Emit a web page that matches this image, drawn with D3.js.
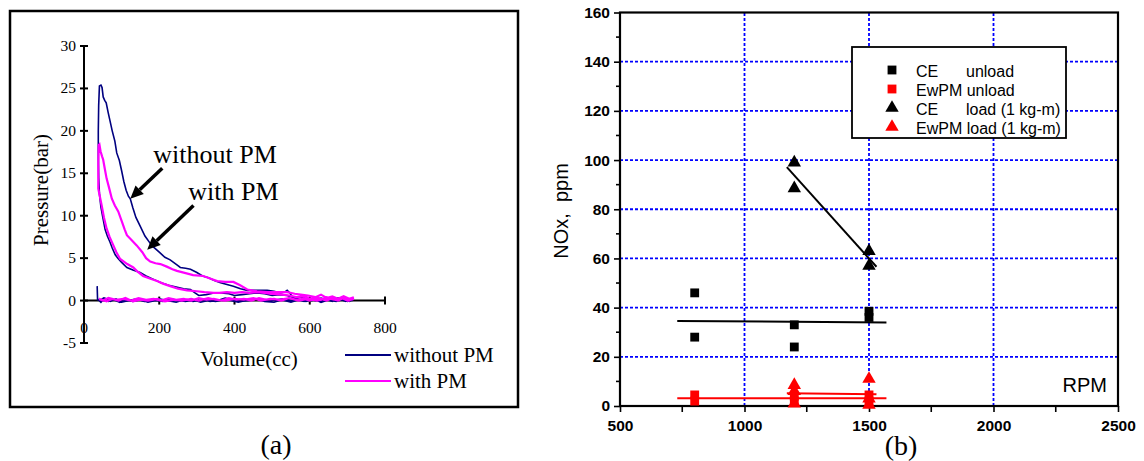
<!DOCTYPE html>
<html>
<head>
<meta charset="utf-8">
<script src="https://cdn.jsdelivr.net/npm/d3@7/dist/d3.min.js"></script>
<style>
  body { margin: 0; background: #fff; }
</style>
</head>
<body>
<script>
// ---------- data: (a) P-V diagram, [volume cc, pressure bar] in drawing order ----------
var withoutPM = [
  // compression (lower branch)
  [715,0.1],[700,-0.1],[685,0.2],[670,0.0],[655,0.2],[640,0.1],[620,0.3],[600,0.2],[580,0.4],[560,0.3],
  [540,0.6],[520,0.7],[500,0.6],[480,0.8],[460,0.9],[440,0.8],[420,0.7],[400,0.6],[385,0.8],[365,0.9],
  [345,0.9],[325,0.7],[305,0.6],[295,0.9],[283,1.3],[265,1.4],[245,1.6],[225,1.8],[205,2.1],[185,2.5],
  [165,2.9],[149,3.3],[130,3.6],[114,3.9],[100,4.5],[90,5.0],[83,5.4],[75,6.2],[69,6.9],[62,7.6],
  [56,8.4],[50,9.8],[45,11.0],[41,12.6],[39,14.5],[38,17.0],[38,20.0],[39,23.0],
  // peak and expansion (upper branch)
  [41,25.3],[45,25.4],[48,25.1],[51,24.0],[55,23.6],[59,23.3],[64,22.2],[69,21.2],[75,20.0],[82,18.8],
  [87,17.4],[94,16.5],[100,15.3],[106,14.0],[112,13.0],[118,12.3],[123,12.0],[130,10.9],[138,9.8],[149,8.8],
  [162,7.6],[175,6.8],[185,6.3],[200,5.7],[215,5.1],[229,4.8],[247,4.2],[256,3.9],[270,3.8],[283,3.7],
  [300,3.3],[315,2.9],[331,2.7],[345,2.4],[363,2.1],[380,1.9],[397,1.7],[416,1.4],[434,1.2],[455,1.2],
  [487,1.2],[505,1.1],[523,0.9],[533,1.0],[540,1.2],[547,0.9],[553,0.5],[560,0.2],[575,0.1],[590,0.3],
  [605,0.0],[620,0.2],[635,-0.1],[650,0.2],[665,0.0],[680,0.2],[695,-0.1],[705,0.2],[715,0.0],
  // exhaust (near zero)
  [705,0.2],[690,0.0],[675,0.3],[660,-0.1],[645,0.1],[630,0.3],[615,0.0],[600,0.2],[585,-0.1],[570,0.1],
  [550,0.0],[530,0.2],[510,0.1],[490,-0.1],[470,0.1],[450,0.2],[430,0.0],[410,-0.2],[390,0.0],[370,0.1],
  [350,-0.1],[330,0.0],[310,-0.2],[290,0.1],[270,-0.1],[250,0.0],[230,0.2],[210,-0.1],[190,0.0],[170,-0.2],
  [150,0.1],[130,-0.1],[110,0.1],[95,-0.2],[80,0.1],[65,-0.1],[52,0.3],[42,0.0],[36,0.1],[35,1.7],[36,0.2],
  // intake (near zero)
  [45,-0.2],[55,0.3],[70,-0.1],[85,0.2],[100,-0.2],[120,0.0],[140,0.2],[160,-0.1],[180,0.1],[200,0.2],
  [220,0.0],[245,-0.2],[265,0.1],[290,-0.1],[315,0.2],[335,-0.1],[355,0.0],[375,0.3],[395,0.1],[415,-0.1],
  [440,0.0],[460,0.2],[480,-0.1],[505,-0.2],[525,0.1],[550,-0.2],[570,0.1],[590,-0.1],[610,0.2],[630,-0.2],
  [650,0.1],[670,-0.1],[690,0.2],[705,-0.1],[715,0.1]
];

var withPM = [
  // compression (lower branch)
  [717,0.3],[705,0.0],[690,0.4],[675,0.1],[660,0.3],[645,0.0],[630,0.2],[615,0.4],[600,0.2],[585,0.5],
  [565,0.4],[545,0.6],[525,0.7],[500,0.8],[480,0.9],[460,1.0],[440,0.9],[420,1.0],[400,0.9],[380,1.0],
  [360,0.9],[345,0.9],[320,1.0],[300,1.1],[274,1.2],[250,1.4],[229,1.7],[210,2.0],[194,2.3],[175,2.6],
  [157,2.9],[140,3.5],[131,3.9],[115,4.3],[96,4.9],[86,5.7],[78,6.5],[68,7.5],[60,8.5],[53,9.8],
  [47,11.2],[42,12.3],[38,13.2],[38,16.0],
  // peak and expansion (upper branch)
  [39,18.3],[41,18.4],[44,17.6],[48,17.0],[51,16.6],[55,15.6],[60,14.4],[66,13.4],[74,12.0],[82,11.2],
  [91,10.5],[100,9.4],[108,8.4],[114,7.7],[125,7.2],[140,6.5],[155,5.7],[165,5.0],[176,4.6],[190,4.4],
  [203,4.3],[220,4.0],[235,3.7],[247,3.5],[265,3.3],[290,3.0],[317,2.9],[335,2.6],[354,2.3],[375,2.2],
  [397,2.2],[415,1.8],[434,1.3],[460,1.1],[487,1.0],[515,1.0],[540,1.0],[560,0.8],[576,0.7],[595,0.6],
  [615,0.4],[630,0.7],[645,0.3],[660,0.5],[675,0.2],[690,0.5],[705,0.2],[717,0.4],
  // exhaust (near zero)
  [705,0.1],[690,0.3],[675,0.0],[660,0.2],[645,0.4],[630,0.1],[615,0.3],[600,0.0],[585,0.2],[565,0.1],
  [545,0.3],[525,0.0],[505,0.2],[485,0.1],[465,0.3],[445,0.0],[425,0.2],[405,0.1],[385,0.3],[365,0.0],
  [345,0.2],[325,0.1],[305,0.3],[285,0.0],[265,0.2],[245,0.1],[225,0.3],[205,0.0],[185,0.2],[165,0.1],
  [145,0.3],[125,0.0],[105,0.2],[85,0.1],[65,0.3],[50,0.0],[40,0.2],
  // intake (near zero)
  [48,0.1],[60,-0.1],[75,0.2],[92,0.0],[110,0.3],[130,-0.1],[150,0.1],[170,0.0],[195,0.2],[215,-0.1],
  [240,0.1],[260,0.0],[285,0.2],[305,0.0],[330,0.3],[350,0.1],[375,0.0],[400,0.2],[425,0.1],[450,0.3],
  [470,0.0],[495,0.2],[520,0.1],[545,0.3],[570,0.0],[595,0.2],[620,0.0],[645,0.3],[665,0.1],[685,0.3],
  [700,0.0],[717,0.2]
];

var pvTicksX = [0, 200, 400, 600, 800];
var pvTicksY = [-5, 0, 5, 10, 15, 20, 25, 30];

// ---------- data: (b) NOx vs RPM ----------
var ceUnload   = [[800,46],[800,28],[1200,33],[1200,24],[1500,36],[1500,38.5]];
var ewpmUnload = [[800,2],[800,4.5],[1200,2],[1200,4],[1500,2],[1500,4.5]];
var ceLoad     = [[1200,99],[1200,88.5],[1500,63],[1500,57]];
var ewpmLoad   = [[1200,8.5],[1200,6],[1200,1],[1500,11],[1500,3],[1500,0.5]];

var rpmTicks = [500, 1000, 1500, 2000, 2500];
var rpmMinor = [750, 1250, 1750, 2250];
var noxTicks = [0, 20, 40, 60, 80, 100, 120, 140, 160];
var noxMinor = [10, 30, 50, 70, 90, 110, 130, 150];

var svg = d3.select("body").append("svg")
  .attr("width", 1144)
  .attr("height", 461);

// ======================= panel (a) =======================
var serif = "'Liberation Serif', 'Times New Roman', serif";
var xL = d3.scaleLinear().domain([0, 800]).range([84, 385]);
var yL = d3.scaleLinear().domain([-5, 30]).range([343, 46]);

var pa = svg.append("g").style("font-family", serif);

pa.append("rect")
  .attr("x", 10).attr("y", 11).attr("width", 508).attr("height", 396)
  .attr("fill", "none").attr("stroke", "#000").attr("stroke-width", 2.5);

// axes (crossing ticks)
pa.append("line")
  .attr("x1", xL(0)).attr("x2", xL(0)).attr("y1", yL(-5)).attr("y2", yL(30))
  .attr("stroke", "#000").attr("stroke-width", 2);
pa.append("line")
  .attr("x1", xL(0)).attr("x2", xL(800)).attr("y1", yL(0)).attr("y2", yL(0))
  .attr("stroke", "#000").attr("stroke-width", 2);

pvTicksY.forEach(function (v) {
  pa.append("line")
    .attr("x1", xL(0) - 4).attr("x2", xL(0) + 4).attr("y1", yL(v)).attr("y2", yL(v))
    .attr("stroke", "#000").attr("stroke-width", 2);
  pa.append("text")
    .attr("x", xL(0) - 8).attr("y", yL(v) + 5)
    .attr("text-anchor", "end").attr("font-size", "15.5px")
    .text(v);
});
pvTicksX.forEach(function (v) {
  pa.append("line")
    .attr("x1", xL(v)).attr("x2", xL(v)).attr("y1", yL(0) - 4).attr("y2", yL(0) + 4)
    .attr("stroke", "#000").attr("stroke-width", 2);
  pa.append("text")
    .attr("x", xL(v)).attr("y", yL(0) + 32)
    .attr("text-anchor", "middle").attr("font-size", "15.5px")
    .text(v);
});

pa.append("text")
  .attr("transform", "translate(48," + 190 + ") rotate(-90)")
  .attr("text-anchor", "middle").attr("font-size", "21px")
  .text("Pressure(bar)");
pa.append("text")
  .attr("x", 249).attr("y", 366)
  .attr("text-anchor", "middle").attr("font-size", "21px")
  .text("Volume(cc)");

var pvLine = d3.line()
  .x(function (d) { return xL(d[0]); })
  .y(function (d) { return yL(d[1]); });

pa.append("path").datum(withoutPM)
  .attr("d", pvLine).attr("fill", "none")
  .attr("stroke", "#000080").attr("stroke-width", 1.6);
pa.append("path").datum(withPM)
  .attr("d", pvLine).attr("fill", "none")
  .attr("stroke", "#ff00ff").attr("stroke-width", 2.2);

// annotations with arrows
function arrow(g, x1, y1, x2, y2) {
  var ang = Math.atan2(y2 - y1, x2 - x1), L = 13, W = 6;
  var bx = x2 - L * Math.cos(ang), by = y2 - L * Math.sin(ang);
  g.append("line").attr("x1", x1).attr("y1", y1).attr("x2", bx).attr("y2", by)
    .attr("stroke", "#000").attr("stroke-width", 3.5);
  g.append("path")
    .attr("d", "M" + x2 + "," + y2 +
      "L" + (bx + W * Math.sin(ang)) + "," + (by - W * Math.cos(ang)) +
      "L" + (bx - W * Math.sin(ang)) + "," + (by + W * Math.cos(ang)) + "Z")
    .attr("fill", "#000");
}
pa.append("text").attr("x", xL(184)).attr("y", yL(16.2))
  .attr("font-size", "26px").text("without PM");
arrow(pa, xL(208), yL(15.6), xL(123), yL(12.0));
pa.append("text").attr("x", xL(277)).attr("y", yL(11.8))
  .attr("font-size", "26px").text("with PM");
arrow(pa, xL(291), yL(11.2), xL(168), yL(6.0));

// legend
var legA = [["without PM", "#000080"], ["with PM", "#ff00ff"]];
legA.forEach(function (d, i) {
  var y = 355 + i * 26;
  pa.append("line").attr("x1", 345).attr("x2", 391).attr("y1", y).attr("y2", y)
    .attr("stroke", d[1]).attr("stroke-width", 2);
  pa.append("text").attr("x", 394).attr("y", y + 7)
    .attr("font-size", "21px").text(d[0]);
});

svg.append("text").attr("x", 276).attr("y", 454)
  .attr("text-anchor", "middle").attr("font-size", "28px")
  .style("font-family", serif).text("(a)");

// ======================= panel (b) =======================
var sans = "'Liberation Sans', Arial, sans-serif";
var x = d3.scaleLinear().domain([500, 2500]).range([620, 1118]);
var y = d3.scaleLinear().domain([0, 160]).range([406, 12.5]);

var pb = svg.append("g").style("font-family", sans);

// grid
pb.selectAll(".hgrid").data(noxTicks.slice(1, -1)).enter().append("line")
  .attr("x1", x(500)).attr("x2", x(2500))
  .attr("y1", function (d) { return y(d); }).attr("y2", function (d) { return y(d); })
  .attr("stroke", "#0000ff").attr("stroke-width", 1.8).attr("stroke-dasharray", "3,2");
pb.selectAll(".vgrid").data(rpmTicks.slice(1, -1)).enter().append("line")
  .attr("x1", function (d) { return x(d); }).attr("x2", function (d) { return x(d); })
  .attr("y1", y(0)).attr("y2", y(160))
  .attr("stroke", "#0000ff").attr("stroke-width", 1.8).attr("stroke-dasharray", "3,2");

// frame
pb.append("rect")
  .attr("x", x(500)).attr("y", y(160))
  .attr("width", x(2500) - x(500)).attr("height", y(0) - y(160))
  .attr("fill", "none").attr("stroke", "#000").attr("stroke-width", 2.2);

// axes
var xAxis = pb.append("g").attr("transform", "translate(0," + y(0) + ")")
  .call(d3.axisBottom(x).tickValues(rpmTicks).tickSize(6).tickPadding(8).tickFormat(d3.format("d")));
var yAxis = pb.append("g").attr("transform", "translate(" + x(500) + ",0)")
  .call(d3.axisLeft(y).tickValues(noxTicks).tickSize(6).tickPadding(4).tickFormat(d3.format("d")));
[xAxis, yAxis].forEach(function (a) {
  a.select(".domain").remove();
  a.selectAll("line").attr("stroke", "#000").attr("stroke-width", 1.6);
  a.selectAll("text").attr("font-size", "15.5px").attr("font-weight", "bold")
    .attr("fill", "#000").style("font-family", sans);
});
pb.selectAll(".xminor").data(rpmMinor).enter().append("line")
  .attr("x1", function (d) { return x(d); }).attr("x2", function (d) { return x(d); })
  .attr("y1", y(0)).attr("y2", y(0) + 6)
  .attr("stroke", "#000").attr("stroke-width", 1.6);
pb.selectAll(".yminor").data(noxMinor).enter().append("line")
  .attr("x1", x(500) - 4).attr("x2", x(500))
  .attr("y1", function (d) { return y(d); }).attr("y2", function (d) { return y(d); })
  .attr("stroke", "#000").attr("stroke-width", 1.6);

pb.append("text")
  .attr("transform", "translate(568,211) rotate(-90)")
  .attr("text-anchor", "middle").attr("font-size", "20px")
  .attr("xml:space", "preserve")
  .text("NOx,  ppm");
pb.append("text").attr("x", 1107).attr("y", 392)
  .attr("text-anchor", "end").attr("font-size", "20px").text("RPM");

// least-squares trend line, extended 10% past the data range
function fitLine(pts) {
  var mx = d3.mean(pts, function (d) { return d[0]; });
  var my = d3.mean(pts, function (d) { return d[1]; });
  var sxy = d3.sum(pts, function (d) { return (d[0] - mx) * (d[1] - my); });
  var sxx = d3.sum(pts, function (d) { return (d[0] - mx) * (d[0] - mx); });
  var b = sxy / sxx;
  var ext = d3.extent(pts, function (d) { return d[0]; });
  var pad = (ext[1] - ext[0]) * 0.1;
  return [ext[0] - pad, ext[1] + pad].map(function (r) { return [r, my + b * (r - mx)]; });
}
var trend = d3.line()
  .x(function (d) { return x(d[0]); })
  .y(function (d) { return y(d[1]); });

var series = [
  { data: ceUnload,   color: "#000",    shape: "square",   label: ["CE", "unload"] },
  { data: ewpmUnload, color: "#ff0000", shape: "square",   label: ["EwPM unload", null] },
  { data: ceLoad,     color: "#000",    shape: "triangle", label: ["CE", "load (1 kg-m)"] },
  { data: ewpmLoad,   color: "#ff0000", shape: "triangle", label: ["EwPM load (1 kg-m)", null] }
];

var sqSym = d3.symbol().type(d3.symbolSquare).size(78);
var triSym = d3.symbol().type(d3.symbolTriangle).size(78);

series.forEach(function (s) {
  pb.append("path").datum(fitLine(s.data))
    .attr("d", trend).attr("fill", "none")
    .attr("stroke", s.color).attr("stroke-width", 2);
});
series.forEach(function (s) {
  pb.selectAll(null).data(s.data).enter().append("path")
    .attr("d", s.shape === "square" ? sqSym : triSym)
    .attr("transform", function (d) { return "translate(" + x(d[0]) + "," + y(d[1]) + ")"; })
    .attr("fill", s.color);
});

// legend
pb.append("rect")
  .attr("x", 852).attr("y", 47).attr("width", 214).attr("height", 91)
  .attr("fill", "#fff").attr("stroke", "#000").attr("stroke-width", 1.8);
series.forEach(function (s, i) {
  var ly = 71 + i * 19;
  pb.append("path")
    .attr("d", s.shape === "square" ? sqSym : triSym)
    .attr("transform", "translate(892," + (ly - 1) + ")")
    .attr("fill", s.color);
  pb.append("text").attr("x", 916).attr("y", ly + 6)
    .attr("font-size", "16px").text(s.label[0]);
  if (s.label[1]) {
    pb.append("text").attr("x", 966).attr("y", ly + 6)
      .attr("font-size", "16px").text(s.label[1]);
  }
});

svg.append("text").attr("x", 901).attr("y", 455)
  .attr("text-anchor", "middle").attr("font-size", "28px")
  .style("font-family", serif).text("(b)");
</script>
</body>
</html>
